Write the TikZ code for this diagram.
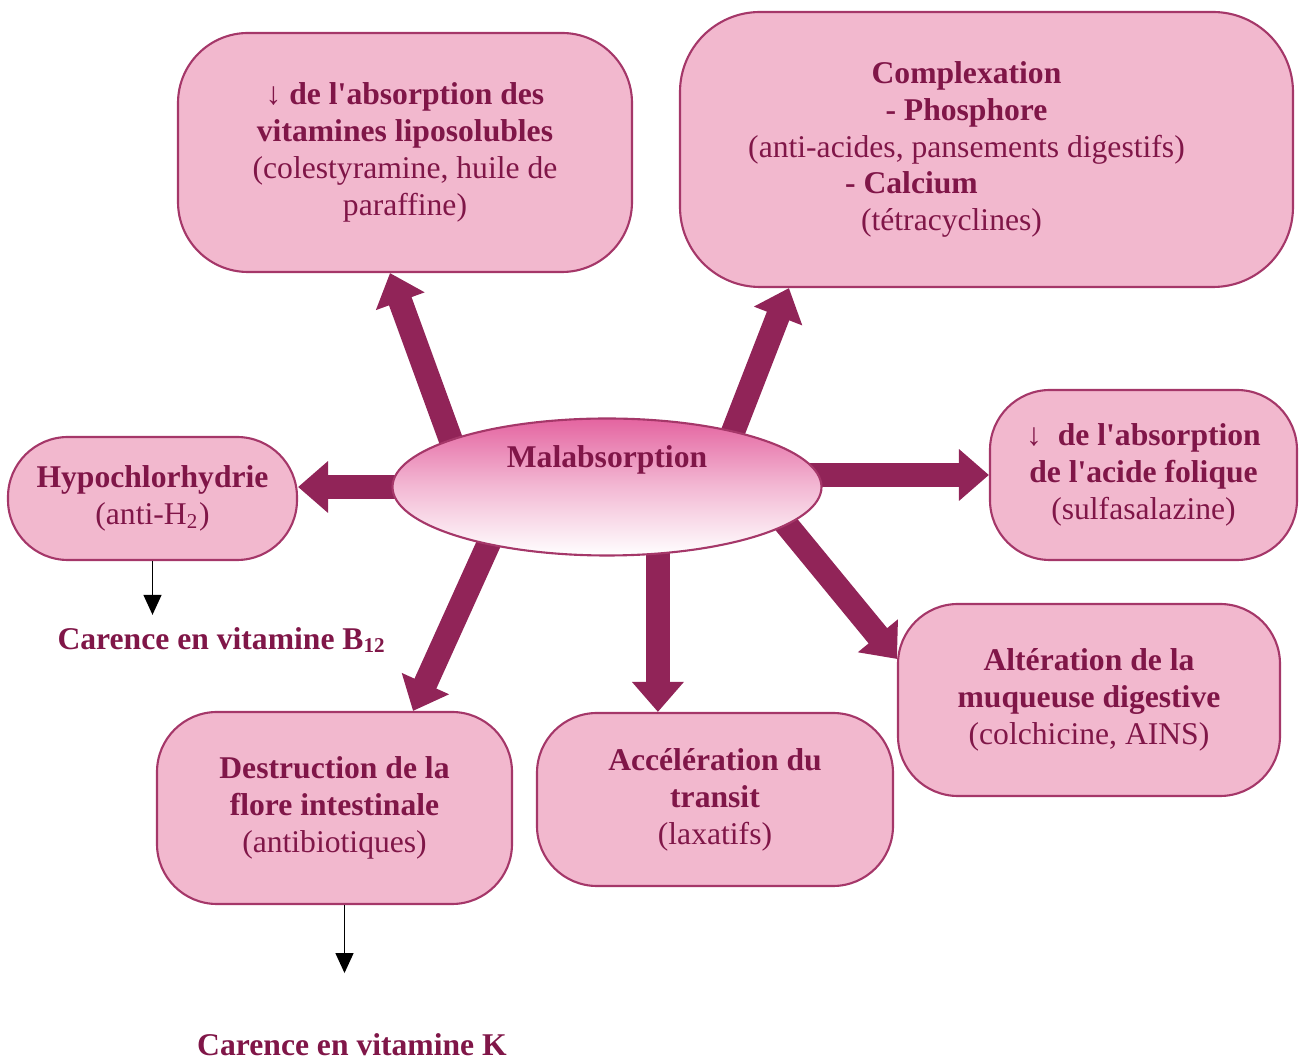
\documentclass[tikz,border=0pt]{standalone}
\usepackage{fontspec}
\setmainfont{Liberation Serif}
\usetikzlibrary{shapes.geometric,arrows.meta,backgrounds}
\definecolor{rosefond}{RGB}{242,184,206}
\definecolor{bordrose}{RGB}{165,55,105}
\definecolor{violtxt}{RGB}{128,22,72}
\definecolor{flechecol}{RGB}{145,36,88}
\definecolor{rosemal}{RGB}{228,100,160}
\begin{document}
\begin{tikzpicture}[
    boite/.style={draw=bordrose, line width=0.6pt, fill=rosefond, rounded corners=0.6cm, align=center, text=violtxt, inner sep=2pt, font=\fontsize{9}{10.5}\selectfont},
    malab/.style={ellipse, draw=bordrose, line width=0.6pt, top color=rosemal, bottom color=white, middle color=rosemal!45, minimum width=4.29cm, minimum height=1.37cm, inner sep=0pt},
    grosse/.style={line width=2.4mm, draw=flechecol, -{Triangle[length=3.0mm,width=5.0mm]}, shorten <=-2mm},
    fine/.style={thin, -{Triangle[length=2mm,width=1.8mm]}},
    carence/.style={text=violtxt, font=\fontsize{9}{10.5}\selectfont\bfseries}
]
\useasboundingbox (0,0) rectangle (13.01,10.62);

% centre
\node[malab] (mal) at (6.07,5.75) {};
\node[text=violtxt, font=\fontsize{9}{10.5}\selectfont\bfseries] (maltxt) at ([yshift=0.27cm]mal.center) {Malabsorption};

% boites
\node[boite, minimum width=4.54cm, minimum height=2.39cm, rounded corners=0.7cm] (vit) at (4.05,9.095)
  {\textbf{↓ de l\textquotesingle absorption des}\\ \textbf{vitamines liposolubles}\\ (colestyramine, huile de\\ paraffine)};
\node[boite, minimum width=6.13cm, minimum height=2.75cm, rounded corners=0.8cm] (cpx) at (9.865,9.125)
  {\hspace*{-0.4cm}\textbf{Complexation}\\ \hspace*{-0.4cm}\textbf{- Phosphore}\\ \hspace*{-0.4cm}(anti-acides, pansements digestifs)\\ \hspace*{-1.5cm}\textbf{- Calcium}\\ \hspace*{-0.7cm}(tétracyclines)};
\node[boite, minimum width=2.89cm, minimum height=1.23cm] (hyp) at (1.525,5.635)
  {\textbf{Hypochlorhydrie}\\ (anti-H\textsubscript{2})};
\node[boite, minimum width=3.07cm, minimum height=1.70cm] (fol) at (11.435,5.87)
  {\textbf{↓\ \ de l\textquotesingle absorption}\\ \textbf{de l\textquotesingle acide folique}\\ (sulfasalazine)};
\node[boite, minimum width=3.82cm, minimum height=1.92cm] (alt) at (10.89,3.62)
  {\textbf{Altération de la}\\ \textbf{muqueuse digestive}\\ (colchicine, AINS)};
\node[boite, minimum width=3.56cm, minimum height=1.73cm] (acc) at (7.15,2.625)
  {\textbf{Accélération du}\\ \textbf{transit}\\ (laxatifs)};
\node[boite, minimum width=3.55cm, minimum height=1.92cm] (dst) at (3.345,2.54)
  {\textbf{Destruction de la}\\ \textbf{flore intestinale}\\ (antibiotiques)};

% carences
\node[carence] (b12) at (2.22,4.22) {Carence en vitamine B\textsubscript{12}};
\node[carence] (vitk) at (3.52,0.17) {Carence en vitamine K};
\coordinate (kdeb) at ([xshift=0.1cm]dst.south);
\coordinate (kfin) at ([yshift=-0.68cm]kdeb);
\draw[fine] (hyp.south) -- (hyp.south |- b12.north);
\draw[fine] (kdeb) -- (kfin);

\begin{scope}[on background layer]
\draw[grosse] (mal.163) -- ([xshift=-0.15cm]vit.south);
\draw[grosse] (mal.24) -- ([xshift=1.1cm]cpx.south west);
\draw[grosse] (mal.west) -- (mal.west -| hyp.east);
\draw[grosse] (mal.east |- fol.west) -- (fol.west);
\draw[grosse] (mal.206) -- ([xshift=-1.0cm]dst.north east);
\draw[grosse] (mal.307) -- (mal.307 |- acc.north);
\draw[grosse] (mal.348) -- ([yshift=-0.56cm]alt.north west);
\end{scope}
\end{tikzpicture}
\end{document}
